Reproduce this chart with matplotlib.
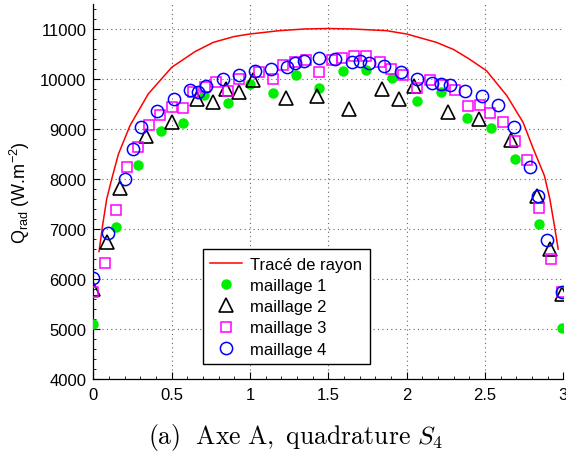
import matplotlib
matplotlib.use('Agg')
import matplotlib.pyplot as plt
from matplotlib.ticker import AutoMinorLocator

plt.rcParams['font.family'] = ['Liberation Sans', 'DejaVu Sans']
FONT_SIZE = 12

# ===== données =====
ray_x = [0.036, 0.06, 0.085, 0.117, 0.16, 0.234, 0.35, 0.5, 0.65, 0.766, 0.9, 1.0, 1.19, 1.35,
         1.5, 1.65, 1.87, 2.0, 2.19, 2.3, 2.40, 2.51, 2.64, 2.744, 2.81, 2.88, 2.915, 2.945, 2.968]
ray_y = [6550, 7100, 7600, 8000, 8500, 9070, 9700, 10233, 10550, 10733, 10850, 10900, 10967, 11000,
         11010, 11000, 10967, 10900, 10733, 10590, 10400, 10167, 9667, 9133, 8600, 8067, 7600, 7050, 6600]

m1_x = [0.0, 0.145, 0.287, 0.43, 0.574, 0.706, 0.86, 1.0, 1.145, 1.294, 1.443, 1.591, 1.743,
        1.904, 2.068, 2.223, 2.389, 2.542, 2.691, 2.844, 2.993]
m1_y = [5100, 7040, 8287, 8967, 9127, 9690, 9515, 9900, 9727, 10080, 9813, 10160, 10183,
        10013, 9567, 9740, 9217, 9017, 8393, 7100, 5013]

m2_x = [0.0, 0.089, 0.17, 0.336, 0.5, 0.664, 0.762, 0.845, 0.932, 1.021, 1.230, 1.43, 1.635,
        1.845, 1.951, 2.049, 2.262, 2.464, 2.666, 2.834, 2.915, 2.993]
m2_y = [5800, 6733, 7830, 8870, 9133, 9600, 9550, 9800, 9733, 9987, 9630, 9667, 9410,
        9810, 9610, 9860, 9333, 9205, 8785, 7667, 6600, 5700]

m3_x = [0.0, 0.075, 0.145, 0.215, 0.287, 0.357, 0.426, 0.5, 0.57, 0.638, 0.71, 0.785, 0.857,
        0.932, 1.06, 1.145, 1.213, 1.29, 1.36, 1.443, 1.521, 1.59, 1.664, 1.743, 1.83, 1.9,
        1.98, 2.068, 2.149, 2.23, 2.308, 2.393, 2.466, 2.53, 2.617, 2.693, 2.77, 2.844, 2.921, 2.993]
m3_y = [5747, 6320, 7380, 8233, 8640, 9083, 9285, 9433, 9415, 9750, 9850, 9950, 9767,
        9993, 10140, 10000, 10280, 10330, 10370, 10133, 10380, 10420, 10467, 10453, 10340, 10200,
        10075, 9813, 9987, 9890, 9780, 9460, 9475, 9320, 9147, 8770, 8387, 7420, 6400, 5747]

m4_x = [0.0, 0.096, 0.203, 0.255, 0.304, 0.406, 0.515, 0.617, 0.67, 0.719, 0.826, 0.93, 1.034,
        1.132, 1.234, 1.287, 1.348, 1.443, 1.546, 1.651, 1.702, 1.760, 1.856, 1.962, 2.064,
        2.165, 2.22, 2.276, 2.376, 2.479, 2.584, 2.687, 2.79, 2.84, 2.897, 2.993]
m4_y = [6013, 6913, 8000, 8600, 9033, 9355, 9600, 9780, 9733, 9860, 10000, 10090, 10160,
        10195, 10233, 10320, 10367, 10410, 10400, 10347, 10360, 10327, 10267, 10147, 9995,
        9920, 9893, 9880, 9757, 9655, 9473, 9040, 8247, 7667, 6780, 5733]

xticks = [0, 0.5, 1, 1.5, 2, 2.5, 3]
xtick_labels = ['0', '0.5', '1', '1.5', '2', '2.5', '3']
yticks = [4000, 5000, 6000, 7000, 8000, 9000, 10000, 11000]

# ===== figure =====
fig = plt.figure(figsize=(5.66, 4.52), dpi=100)
ax = fig.add_axes([0.165, 0.159, 0.830, 0.830])

ax.plot(ray_x, ray_y, color='#ff0000', linewidth=1.1, label='Tracé de rayon', zorder=3)
ax.plot(m1_x, m1_y, linestyle='none', marker='o', markersize=6.5, color='#00ee00',
        markeredgecolor='#00ee00', label='maillage 1', zorder=4)
ax.plot(m2_x, m2_y, linestyle='none', marker='^', markersize=10, markerfacecolor='none',
        markeredgecolor='black', markeredgewidth=1.2, label='maillage 2', zorder=5)
ax.plot(m3_x, m3_y, linestyle='none', marker='s', markersize=7.3, markerfacecolor='none',
        markeredgecolor='#ff00ff', markeredgewidth=1.1, label='maillage 3', zorder=5)
ax.plot(m4_x, m4_y, linestyle='none', marker='o', markersize=8.8, markerfacecolor='none',
        markeredgecolor='#0000ff', markeredgewidth=1.1, label='maillage 4', zorder=6)

ax.set_xlim(0, 3)
ax.set_ylim(4000, 11500)
ax.set_xticks(xticks)
ax.set_xticklabels(xtick_labels)
ax.set_yticks(yticks)
ax.xaxis.set_minor_locator(AutoMinorLocator(5))
ax.yaxis.set_minor_locator(AutoMinorLocator(5))
ax.tick_params(which='major', direction='in', length=5, width=0.8, labelsize=FONT_SIZE, pad=5)
ax.tick_params(which='minor', direction='in', length=2.5, width=0.6)
ax.tick_params(axis='x', pad=6)

for side in ['top', 'right']:
    ax.spines[side].set_visible(False)
for side in ['left', 'bottom']:
    ax.spines[side].set_linewidth(0.9)

ax.grid(True, which='major', linestyle=(0, (1, 3)), color='#666666', linewidth=0.8)
ax.set_axisbelow(True)

ax.set_ylabel(r'Q$_\mathregular{rad}$ (W.m$^\mathregular{-2}$)', fontsize=13, labelpad=6)

leg = ax.legend(loc='lower left', bbox_to_anchor=(0.233, 0.04), fontsize=FONT_SIZE,
                frameon=True, fancybox=False, edgecolor='black', framealpha=1,
                handlelength=1.9, handletextpad=0.5, borderpad=0.45, labelspacing=0.37,
                borderaxespad=0)
leg.get_frame().set_linewidth(1.0)

fig.text(0.523, 0.033, r'$\mathrm{(a)\ \ Axe\ A,\ quadrature\ }S_4$', ha='center', va='center',
         fontsize=18.5, math_fontfamily='cm')

fig.savefig('out.png', dpi=100)
